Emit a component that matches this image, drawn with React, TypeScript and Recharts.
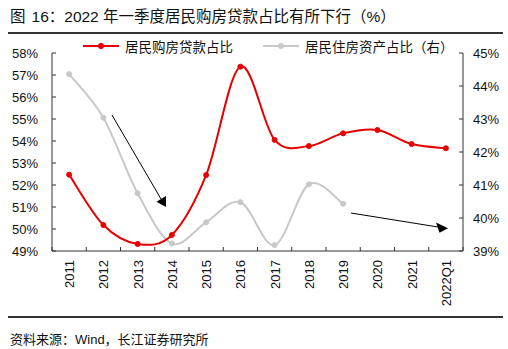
import { LineChart, Line, XAxis, YAxis, Legend } from 'recharts';

const years = ['2011', '2012', '2013', '2014', '2015', '2016', '2017', '2018', '2019', '2020', '2021', '2022Q1'];
// 居民购房贷款占比 (left axis, %)
const loanShare = [52.47, 50.18, 49.32, 49.73, 52.45, 57.38, 54.05, 53.77, 54.35, 54.5, 53.86, 53.67];
// 居民住房资产占比 (right axis, %)
const assetShare = [44.36, 43.04, 40.75, 39.23, 39.87, 40.48, 39.18, 41.02, 40.43, null, null, null];
const leftTicks = [49, 50, 51, 52, 53, 54, 55, 56, 57, 58];
const rightTicks = [39, 40, 41, 42, 43, 44, 45];

const data = years.map((year, i) => ({ year, loan: loanShare[i], asset: assetShare[i] }));

const RED = '#e60000';
const GRAY = '#c8c8c8';
const AXIS = '#333';
const FONT = '"Liberation Sans", Arial, "Noto Sans CJK SC", sans-serif';

const W = 508;
const PLOT_LEFT = 52;
const PLOT_RIGHT = 463;
const BAND = (PLOT_RIGHT - PLOT_LEFT) / years.length;

// excel-like smoothing (catmull-rom through the points)
function smoothCurve(context: any) {
  let pts: number[][] = [];
  return {
    areaStart() {},
    areaEnd() {},
    lineStart() {
      pts = [];
    },
    point(x: number, y: number) {
      pts.push([+x, +y]);
    },
    lineEnd() {
      if (!pts.length) return;
      context.moveTo(pts[0][0], pts[0][1]);
      for (let i = 0; i < pts.length - 1; i++) {
        const p0 = pts[i - 1] || pts[i];
        const p1 = pts[i];
        const p2 = pts[i + 1];
        const p3 = pts[i + 2] || pts[i + 1];
        context.bezierCurveTo(
          p1[0] + (p2[0] - p0[0]) / 6,
          p1[1] + (p2[1] - p0[1]) / 6,
          p2[0] - (p3[0] - p1[0]) / 6,
          p2[1] - (p3[1] - p1[1]) / 6,
          p2[0],
          p2[1]
        );
      }
    },
  };
}

function XTick(props: any) {
  const { x, y, payload, index } = props;
  return (
    <g>
      {index === 0 && <line x1={x - BAND / 2} x2={x - BAND / 2} y1={y} y2={y - 4} stroke={AXIS} />}
      <line x1={x + BAND / 2} x2={x + BAND / 2} y1={y} y2={y - 4} stroke={AXIS} />
      <text
        transform={`translate(${x + 5},${y + 9}) rotate(-90)`}
        textAnchor="end"
        fontSize={13}
        fontFamily={FONT}
        fill="#111"
      >
        {payload.value}
      </text>
    </g>
  );
}

function LegendContent() {
  const items = [
    { label: '居民购房贷款占比', color: RED, x: 83 },
    { label: '居民住房资产占比（右）', color: GRAY, x: 263 },
  ];
  return (
    <div style={{ position: 'relative', width: W, height: 20 }}>
      {items.map((it) => (
        <div
          key={it.label}
          style={{ position: 'absolute', left: it.x, top: 0, display: 'flex', alignItems: 'center', height: 20 }}
        >
          <svg width={36} height={10}>
            <line x1={0} x2={36} y1={5} y2={5} stroke={it.color} strokeWidth={2} />
            <circle cx={18} cy={5} r={3} fill={it.color} />
          </svg>
          <span style={{ marginLeft: 6, fontSize: 13.5, fontFamily: FONT, color: '#111' }}>{it.label}</span>
        </div>
      ))}
    </div>
  );
}

export default function App() {
  return (
    <div style={{ position: 'absolute', left: 0, top: 0, width: W, height: 349, background: '#fff', fontFamily: FONT }}>
      <div style={{ position: 'absolute', left: 10, top: 4, fontSize: 15.5, color: '#111', whiteSpace: 'pre' }}>
        <span style={{ marginRight: 6 }}>图</span>16：2022 年一季度居民购房贷款占比有所下行（%）
      </div>
      <div style={{ position: 'absolute', left: 8, top: 32, width: 495, height: 1.5, background: '#333' }} />

      <div style={{ position: 'absolute', left: 0, top: 0 }}>
        <LineChart width={W} height={317} data={data} margin={{ top: 53, right: 0, bottom: 6, left: 8 }}>
          <XAxis
            dataKey="year"
            interval={0}
            tickLine={false}
            tickSize={0}
            tickMargin={0}
            height={60}
            padding={{ left: BAND / 2, right: BAND / 2 }}
            stroke={AXIS}
            tick={<XTick />}
          />
          <YAxis
            yAxisId="left"
            domain={[49, 58]}
            ticks={leftTicks}
            interval={0}
            width={44}
            stroke={AXIS}
            tickSize={-4}
            tickMargin={18}
            tickFormatter={(v: number) => `${v}%`}
            tick={{ fontSize: 13, fill: '#111', fontFamily: FONT }}
          />
          <YAxis
            yAxisId="right"
            orientation="right"
            domain={[39, 45]}
            ticks={rightTicks}
            interval={0}
            width={45}
            stroke={AXIS}
            tickSize={-4}
            tickMargin={14}
            tickFormatter={(v: number) => `${v}%`}
            tick={{ fontSize: 13, fill: '#111', fontFamily: FONT, textAnchor: 'start' }}
          />
          <Legend
            layout="horizontal"
            verticalAlign="middle"
            content={<LegendContent />}
            wrapperStyle={{ top: 36, left: 0, width: W }}
          />
          <Line
            yAxisId="right"
            dataKey="asset"
            type={smoothCurve as any}
            stroke={GRAY}
            strokeWidth={2}
            dot={{ r: 2.5, fill: GRAY, stroke: GRAY, strokeWidth: 1 }}
            isAnimationActive={false}
          />
          <Line
            yAxisId="left"
            dataKey="loan"
            type={smoothCurve as any}
            stroke={RED}
            strokeWidth={2}
            dot={{ r: 2.5, fill: RED, stroke: RED, strokeWidth: 1 }}
            isAnimationActive={false}
          />
        </LineChart>
      </div>

      {/* annotation arrows */}
      <svg style={{ position: 'absolute', left: 0, top: 0, pointerEvents: 'none' }} width={W} height={349}>
        <line x1={112} y1={115} x2={161} y2={199} stroke="#000" strokeWidth={1} />
        <polygon points="156.5,201.7 166,196 166,207" fill="#000" />
        <line x1={351} y1={213} x2={438} y2={227} stroke="#000" strokeWidth={1} />
        <polygon points="436,222.5 439.5,232.7 448,228.3" fill="#000" />
      </svg>

      <div style={{ position: 'absolute', left: 8, top: 316, width: 495, height: 1.5, background: '#333' }} />
      <div style={{ position: 'absolute', left: 10, top: 329, fontSize: 13, color: '#111', whiteSpace: 'nowrap' }}>
        资料来源：Wind，长江证券研究所
      </div>
    </div>
  );
}
